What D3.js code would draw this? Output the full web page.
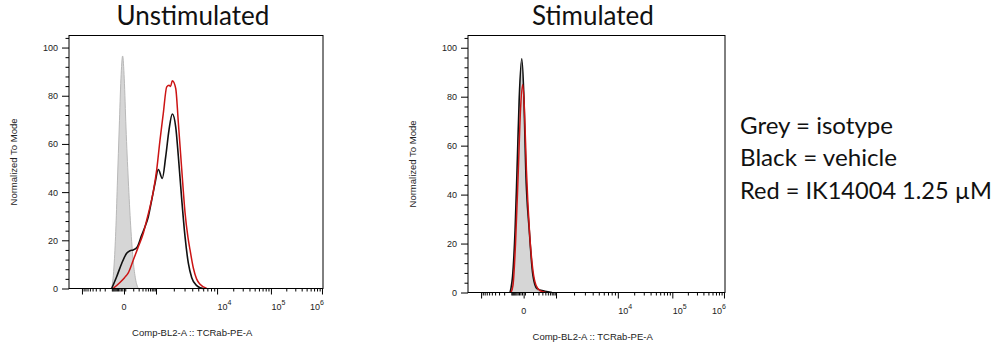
<!DOCTYPE html>
<html><head><meta charset="utf-8">
<script src="https://cdn.jsdelivr.net/npm/d3@7"></script>
<style>body{margin:0;background:#fff}svg{display:block}</style>
</head><body>
<svg id="chart" width="1002" height="345"></svg>
<script>
// ---------------- DATA ----------------
const panelTitles = ["Unstimulated", "Stimulated"];
const yAxisTitle = "Normalized To Mode";
const xAxisTitle = "Comp-BL2-A :: TCRab-PE-A";
const legendLines = ["Grey = isotype", "Black = vehicle", "Red = IK14004 1.25 \u00B5M"];

const xBreaks = [-1000, 0, 1000, 10000, 100000, 1000000];
const xMajorTicks = [-1000, 0, 1000, 10000, 100000, 1000000];
const xMinorTicks = [-900,-800,-700,-600,-500,-400,-300,-200,-100,-90,-80,-70,-60,-50,-40,-30,-20,-10,
  10,100,200,300,400,500,600,700,800,900,
  2000,3000,4000,5000,6000,7000,8000,9000,
  20000,30000,40000,50000,60000,70000,80000,90000,
  200000,300000,400000,500000,600000,700000,800000,900000];
const xLabelValues = [0, 10000, 100000, 1000000];
const xLabelBase = ["0", "10", "10", "10"];
const xLabelExp = ["", "4", "5", "6"];
const yMajorTicks = [0, 20, 40, 60, 80, 100];
const yMinorTicks = [4,8,12,16,24,28,32,36,44,48,52,56,64,68,72,76,84,88,92,96,104];

// Unstimulated
const unstimGreyX = [-102, -87, -74, -58, -45, -31, -19, -8, 2, 16, 38, 65, 101, 137, 192];
const unstimGreyY = [0, 4, 11, 26, 45, 67, 87, 96.5, 87, 67, 45, 26, 11, 4, 0];
const unstimBlackX = [-102, -52, -14, 22, 57, 101, 171, 277, 383, 518, 697, 921, 1097, 1283, 1465, 1664, 1889, 2151, 2373, 2699, 3056, 3458, 3925, 4730, 5344, 6000];
const unstimBlackY = [0, 4.9, 10.4, 14.6, 15.7, 16, 17.3, 22.2, 25.6, 29.8, 36.7, 43.6, 49.4, 45.7, 54.7, 65.8, 72.4, 67, 55, 37, 21.5, 10.5, 4.5, 1.2, 0.3, 0];
const unstimRedX = [-87, -26, 4, 38, 101, 192, 325, 448, 602, 799, 1028, 1172, 1334, 1523, 1664, 1763, 1889, 2151, 2373, 2699, 3056, 3420, 3686, 4166, 4694, 5344, 6840];
const unstimRedY = [0, 2.5, 4.5, 6.5, 11.8, 17.3, 22.9, 28.4, 33.9, 40.2, 49.2, 61.6, 72.7, 83.7, 84.4, 83.8, 86.2, 83, 69, 49.5, 31.5, 21, 16, 8.5, 4, 1.8, 0];

// Stimulated
const stimGreyX = [-105, -87, -62, -45, -28, -11, 2, 17, 52, 99, 169, 386];
const stimGreyY = [0, 5, 23, 48, 78, 94, 78, 48, 23, 6, 1, 0];
const stimBlackX = [-116, -105, -87, -62, -45, -28, -11, 2, 17, 52, 99, 169, 386, 715];
const stimBlackY = [0, 1.6, 6.5, 25.4, 50, 79.8, 95.5, 79.8, 50, 25.4, 7, 1.6, 0.5, 0];
const stimRedX = [-104, -82, -58, -35, -19, -5, 6, 23, 54, 99, 150, 237, 420];
const stimRedY = [0, 3, 20, 50, 75, 85, 75, 50, 25, 9, 3, 0.8, 0];

// ---------------- LAYOUT ----------------
const panels = [
  {left: 69, top: 35.5, width: 254, height: 253, titleX: 193,
   grey: [unstimGreyX, unstimGreyY], black: [unstimBlackX, unstimBlackY], red: [unstimRedX, unstimRedY]},
  {left: 468, top: 35.5, width: 257, height: 257, titleX: 593,
   grey: [stimGreyX, stimGreyY], black: [stimBlackX, stimBlackY], red: [stimRedX, stimRedY]}
];
const xBreakFrac = [0.051, 0.2165, 0.3425, 0.583, 0.795, 0.996];
const tickFont = "'Liberation Sans', Arial, sans-serif";
const titleFont = "Lato, 'Open Sans', sans-serif";

const svg = d3.select("#chart");

panels.forEach((p, i) => {
  const g = svg.append("g");
  const bottom = p.top + p.height;
  const x = d3.scaleSymlog().constant(100).domain(xBreaks)
    .range(xBreakFrac.map(f => p.left + f * p.width));
  const y = d3.scaleLinear().domain([0, 105]).range([bottom, p.top]);

  const area = d3.area().x(d => x(d[0])).y0(y(0)).y1(d => y(d[1])).curve(d3.curveMonotoneX);
  const line = d3.line().x(d => x(d[0])).y(d => y(d[1])).curve(d3.curveMonotoneX);

  const grey = d3.zip(p.grey[0], p.grey[1]);
  const black = d3.zip(p.black[0], p.black[1]);
  const red = d3.zip(p.red[0], p.red[1]);

  g.append("path").datum(grey).attr("d", area).attr("fill", "#d6d6d6");
  g.append("path").datum(grey).attr("d", line).attr("fill", "none").attr("stroke", "#b8b8b8").attr("stroke-width", 1);
  g.append("path").datum(black).attr("d", line).attr("fill", "none").attr("stroke", "#111").attr("stroke-width", 1.6);
  g.append("path").datum(red).attr("d", line).attr("fill", "none").attr("stroke", "#cc1414").attr("stroke-width", 1.5);

  // frame
  g.append("rect").attr("x", p.left).attr("y", p.top).attr("width", p.width).attr("height", p.height)
    .attr("fill", "none").attr("stroke", "#000").attr("stroke-width", 1);

  // y axis
  const yAx = g.append("g").attr("transform", `translate(${p.left},0)`)
    .call(d3.axisLeft(y).tickValues(yMajorTicks).tickSize(7).tickPadding(4).tickFormat(d3.format("d")));
  yAx.select(".domain").remove();
  yAx.selectAll("text").attr("font-family", tickFont).attr("font-size", 9).attr("fill", "#222");
  const yMin = g.append("g").attr("transform", `translate(${p.left},0)`)
    .call(d3.axisLeft(y).tickValues(yMinorTicks).tickSize(3.5).tickFormat(""));
  yMin.select(".domain").remove();

  // x axis
  const xAx = g.append("g").attr("transform", `translate(0,${bottom})`)
    .call(d3.axisBottom(x).tickValues(xMajorTicks).tickSize(6).tickFormat(""));
  xAx.select(".domain").remove();
  const xMin = g.append("g").attr("transform", `translate(0,${bottom})`)
    .call(d3.axisBottom(x).tickValues(xMinorTicks).tickSize(3).tickFormat(""));
  xMin.select(".domain").remove();

  xLabelValues.forEach((v, k) => {
    const isLast = k === xLabelValues.length - 1;
    const t = g.append("text")
      .attr("x", isLast ? p.left + p.width + 1 : (v === 0 ? x(v) : x(v) + 0.5))
      .attr("y", bottom + 21.5)
      .attr("text-anchor", v === 0 ? "middle" : (isLast ? "end" : "start"))
      .attr("font-family", tickFont).attr("font-size", 9).attr("fill", "#222");
    t.append("tspan").text(xLabelBase[k]);
    if (xLabelExp[k]) t.append("tspan").attr("font-size", 7).attr("dy", -5.5).text(xLabelExp[k]);
  });

  // axis titles
  g.append("text").attr("transform", `translate(${p.left - 52},${p.top + p.height / 2}) rotate(-90)`)
    .attr("text-anchor", "middle").attr("font-family", tickFont).attr("font-size", 9.5).attr("fill", "#222")
    .text(yAxisTitle);
  g.append("text").attr("x", p.left + p.width * 0.485).attr("y", bottom + 47.5)
    .attr("text-anchor", "middle").attr("font-family", tickFont).attr("font-size", 9.5).attr("fill", "#222")
    .text(xAxisTitle);

  // panel title
  g.append("text").attr("x", p.titleX).attr("y", 25).attr("text-anchor", "middle")
    .attr("font-family", titleFont).attr("font-size", 26).attr("fill", "#111")
    .text(panelTitles[i]);
});

// legend
const legendBaselines = [134, 166, 198.5];
const legendWidths = [153, 157, 252];
svg.append("g").selectAll("text").data(legendLines).join("text")
  .attr("x", 740).attr("y", (d, i) => legendBaselines[i])
  .attr("font-family", titleFont).attr("font-size", 24).attr("fill", "#111")
  .attr("textLength", (d, i) => legendWidths[i]).attr("lengthAdjust", "spacingAndGlyphs")
  .text(d => d);
</script>
</body></html>
